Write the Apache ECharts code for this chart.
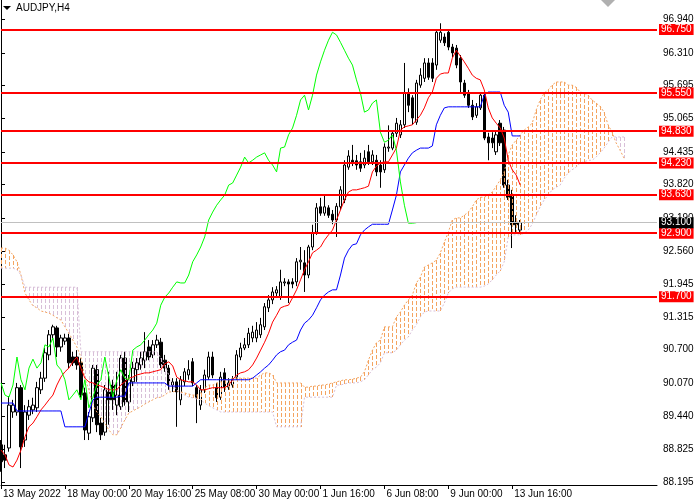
<!DOCTYPE html>
<html>
<head>
<meta charset="utf-8">
<title>AUDJPY,H4</title>
<script src="https://cdn.jsdelivr.net/npm/echarts@6.0.0/dist/echarts.min.js"></script>
<style>
  html, body { margin: 0; padding: 0; background: #fff; }
  #chart { width: 700px; height: 500px; }
</style>
</head>
<body>
<div id="chart"></div>
<script>
// AUDJPY H4 - candles with Ichimoku and price levels

// x axis: bar number, one label every 16 bars
var labelBars = [0, 16, 32, 48, 64, 80, 96, 112, 128];
var timeLabels = ['13 May 2022', '18 May 00:00', '20 May 16:00', '25 May 08:00', '30 May 00:00',
                  '1 Jun 16:00', '6 Jun 08:00', '9 Jun 00:00', '13 Jun 16:00'];

// price scale labels
var priceTicks = [88.195, 88.825, 89.440, 90.070, 90.700, 91.315, 91.945, 92.560,
                  93.190, 93.820, 94.435, 95.065, 95.695, 96.310, 96.940];

// horizontal levels and current bid
var levels = [96.750, 95.550, 94.830, 94.230, 93.630, 92.900, 91.700];
var bid = 93.101;

// candles
var opens = [
  88.90, 88.71, 88.84, 89.52, 89.52, 89.98, 88.99, 89.46, 89.56, 89.60,
  89.94, 90.16, 90.60, 90.98, 91.11, 90.75, 90.86, 90.92, 90.56, 90.56,
  90.45, 89.88, 89.12, 89.41, 90.32, 89.31, 89.14, 89.90, 90.03, 89.65,
  89.62, 90.54, 89.71, 90.09, 90.32, 90.41, 90.50, 90.75, 90.60, 90.79,
  90.84, 90.50, 90.35, 90.03, 90.09, 89.75, 90.09, 90.22, 90.47, 89.98,
  89.65, 89.94, 90.18, 90.56, 89.98, 89.80, 90.26, 89.99, 90.03, 90.18,
  90.56, 90.73, 90.79, 90.92, 90.92, 90.98, 91.13, 91.49, 91.64, 91.77,
  91.69, 91.96, 91.98, 91.98, 91.98, 92.36, 92.34, 92.11, 92.64, 92.92,
  93.40, 93.28, 93.38, 93.26, 93.15, 93.40, 93.53, 94.15, 94.28, 94.27,
  94.25, 94.19, 94.44, 94.25, 94.28, 94.19, 94.10, 94.51, 94.51, 94.79,
  94.76, 94.95, 95.55, 95.46, 95.00, 95.70, 95.83, 96.12, 96.12, 96.08,
  96.55, 96.61, 96.70, 96.42, 96.40, 96.21, 95.74, 95.55, 95.32, 95.13,
  95.27, 95.51, 94.72, 94.70, 94.44, 94.98, 94.85, 93.81, 93.62, 93.11,
  92.96
];
var closes = [
  88.58, 88.61, 89.65, 89.65, 89.98, 88.86, 89.52, 89.62, 89.65, 89.98,
  90.16, 90.64, 90.98, 91.13, 90.75, 90.92, 90.92, 90.45, 90.45, 90.41,
  89.84, 89.18, 89.43, 90.35, 89.28, 89.09, 89.94, 89.75, 89.75, 89.84,
  90.54, 89.71, 90.13, 90.35, 90.45, 90.54, 90.66, 90.56, 90.79, 90.88,
  90.41, 90.35, 90.03, 90.09, 89.90, 90.13, 90.28, 90.32, 90.07, 89.80,
  89.94, 90.22, 90.56, 90.22, 89.79, 90.18, 89.99, 90.07, 90.13, 90.60,
  90.73, 90.79, 91.01, 91.03, 91.07, 91.17, 91.51, 91.64, 91.79, 91.83,
  91.98, 91.98, 91.94, 91.94, 92.36, 92.39, 92.11, 92.64, 92.90, 93.38,
  93.28, 93.40, 93.24, 93.15, 93.41, 93.72, 94.19, 94.36, 94.23, 94.19,
  94.13, 94.32, 94.25, 94.38, 94.06, 94.06, 94.53, 94.53, 94.79, 94.98,
  94.95, 95.55, 95.32, 95.08, 95.74, 95.89, 96.12, 95.85, 95.83, 96.70,
  96.70, 96.50, 96.42, 96.31, 96.08, 95.76, 95.51, 95.32, 95.10, 95.29,
  95.51, 94.70, 94.61, 94.61, 94.76, 94.61, 93.81, 93.58, 93.06, 93.06,
  93.101
];
var lows = [
  88.39, 88.46, 88.77, 89.41, 89.45, 88.46, 88.86, 89.37, 89.48, 89.52,
  89.86, 90.09, 90.50, 90.88, 90.56, 90.66, 90.79, 90.35, 90.39, 90.32,
  89.79, 88.99, 88.99, 89.33, 89.14, 88.99, 89.07, 89.28, 89.56, 89.46,
  89.56, 89.64, 89.52, 90.01, 90.09, 90.32, 90.35, 90.50, 90.54, 90.73,
  90.35, 90.28, 89.94, 89.90, 89.24, 89.65, 90.01, 90.13, 90.01, 89.31,
  89.56, 89.88, 90.13, 90.16, 89.71, 89.75, 89.90, 89.94, 89.98, 90.13,
  90.50, 90.69, 90.73, 90.84, 90.84, 90.92, 91.07, 91.41, 91.56, 91.71,
  91.64, 91.90, 91.58, 91.86, 91.90, 92.21, 91.79, 92.05, 92.58, 92.87,
  93.23, 93.23, 93.19, 93.07, 92.83, 93.34, 93.47, 94.10, 94.17, 94.10,
  94.06, 94.13, 94.19, 94.19, 93.98, 93.76, 94.04, 94.44, 94.47, 94.72,
  94.70, 94.89, 95.19, 94.95, 94.95, 95.65, 95.76, 95.80, 95.76, 95.99,
  96.50, 96.44, 96.36, 96.23, 96.02, 95.57, 95.46, 95.27, 95.04, 95.08,
  95.23, 94.66, 94.28, 94.51, 94.38, 94.55, 93.76, 93.53, 92.62, 92.92,
  92.89
];
var highs = [
  88.99, 88.90, 89.82, 89.75, 90.07, 90.03, 89.65, 89.75, 89.79, 90.09,
  90.28, 90.73, 91.07, 91.17, 91.15, 90.98, 91.00, 91.00, 90.66, 90.69,
  90.54, 89.98, 89.52, 90.41, 90.41, 89.41, 90.03, 90.28, 90.13, 90.28,
  90.60, 90.66, 90.22, 90.47, 90.54, 90.66, 91.03, 90.88, 90.88, 90.98,
  90.92, 90.60, 90.41, 90.16, 90.16, 90.20, 90.35, 90.50, 90.54, 90.03,
  90.03, 90.32, 90.66, 90.66, 90.07, 90.28, 90.35, 90.16, 90.20, 90.69,
  90.83, 90.92, 91.11, 91.15, 91.22, 91.30, 91.58, 91.73, 91.88, 91.90,
  92.21, 92.05, 92.03, 92.05, 92.43, 92.64, 92.58, 92.68, 93.06, 93.47,
  93.57, 93.62, 93.43, 93.34, 93.47, 93.79, 94.28, 94.47, 94.57, 94.38,
  94.42, 94.47, 94.57, 94.47, 94.38, 94.28, 94.60, 94.94, 94.85, 95.08,
  95.04, 96.12, 95.64, 95.51, 95.80, 96.02, 96.21, 96.21, 96.21, 96.74,
  96.87, 96.68, 96.76, 96.48, 96.46, 96.27, 95.80, 95.61, 95.42, 95.36,
  95.57, 95.57, 94.80, 94.81, 94.85, 95.04, 94.91, 93.91, 93.72, 93.24,
  93.15
];

// Ichimoku lines
var tenkan = [
  88.80, 88.71, 88.52, 88.48, 88.61, 88.80, 89.05, 89.24, 89.31, 89.43,
  89.56, 89.65, 89.75, 89.84, 90.03, 90.18, 90.28, 90.35, 90.47, 90.56,
  90.35, 90.16, 90.09, 90.07, 90.03, 90.01, 89.98, 89.94, 89.94, 89.94,
  90.03, 90.09, 90.16, 90.18, 90.22, 90.24, 90.26, 90.26, 90.28, 90.30,
  90.32, 90.43, 90.47, 90.39, 90.18, 90.13, 90.11, 90.09, 90.09, 90.03,
  89.94, 89.94, 89.96, 89.98, 89.98, 89.98, 89.98, 90.03, 90.13, 90.22,
  90.26, 90.28, 90.32, 90.41, 90.54, 90.69, 90.84, 91.01, 91.22, 91.35,
  91.49, 91.52, 91.54, 91.68, 91.83, 92.02, 92.21, 92.36, 92.53, 92.58,
  92.64, 92.77, 92.87, 92.96, 93.15, 93.34, 93.53, 93.68, 93.72, 93.72,
  93.74, 93.76, 93.79, 94.06, 94.17, 94.23, 94.25, 94.25, 94.38, 94.51,
  94.85, 94.91, 94.93, 94.95, 95.04, 95.13, 95.27, 95.46, 95.57, 95.83,
  95.91, 95.93, 95.93, 96.21, 96.36, 96.25, 96.14, 96.02, 95.89, 95.83,
  95.80, 95.61, 95.27, 95.08, 94.98, 94.89, 94.70, 94.28, 94.10, 94.00,
  93.81
];
var kijun = [
  89.69, 89.69, 89.69, 89.69, 89.54, 89.54, 89.54, 89.54, 89.54, 89.54,
  89.54, 89.54, 89.54, 89.54, 89.54, 89.54, 89.24, 89.24, 89.24, 89.24,
  89.24, 89.24, 89.50, 89.75, 89.80, 89.80, 89.80, 89.80, 89.80, 89.80,
  89.82, 89.82, 90.07, 90.07, 90.07, 90.07, 90.07, 90.07, 90.07, 90.07,
  90.07, 90.07, 90.01, 90.01, 90.01, 90.01, 90.01, 90.01, 90.01, 90.07,
  90.13, 90.13, 90.13, 90.13, 90.13, 90.13, 90.13, 90.13, 90.13, 90.13,
  90.13, 90.13, 90.13, 90.16, 90.22, 90.28, 90.35, 90.41, 90.50, 90.60,
  90.66, 90.69, 90.79, 90.84, 90.88, 91.07, 91.20, 91.26, 91.35, 91.49,
  91.64, 91.73, 91.79, 91.83, 91.83, 92.11, 92.43, 92.58, 92.68, 92.70,
  92.87, 92.96, 93.02, 93.07, 93.07, 93.07, 93.07, 93.07, 93.34, 93.62,
  94.06, 94.19, 94.32, 94.42, 94.47, 94.51, 94.51, 94.51, 94.55, 94.95,
  95.13, 95.27, 95.29, 95.29, 95.29, 95.29, 95.29, 95.29, 95.29, 95.29,
  95.29, 95.51, 95.57, 95.57, 95.57, 95.57, 95.32, 95.19, 94.74, 94.74,
  94.74
];
var chikou = [
  90.07, 89.84, 89.80, 90.03, 90.56, 90.13, 89.94, 90.35, 90.52, 90.35,
  90.45, 90.79, 90.75, 90.92, 90.41, 90.32, 90.13, 89.75, 89.84, 89.94,
  89.75, 90.13, 89.60, 89.80, 90.03, 90.13, 90.56, 90.18, 89.80, 90.13,
  90.32, 90.16, 90.13, 90.69, 90.75, 90.79, 90.88, 90.98, 91.07, 91.20,
  91.54, 91.69, 91.77, 91.88, 91.98, 91.96, 91.96, 92.11, 92.36, 92.49,
  92.64, 92.83, 93.15, 93.30, 93.43, 93.53, 93.62, 93.81, 93.85, 94.00,
  94.15, 94.34, 94.23, 94.28, 94.34, 94.38, 94.42, 94.28, 94.19, 94.06,
  94.51, 94.53, 94.76, 94.89, 95.13, 95.42, 95.51, 95.23, 95.51, 95.89,
  96.14, 96.36, 96.55, 96.70, 96.65, 96.51, 96.36, 96.21, 96.08, 95.80,
  95.55, 95.19, 95.23, 95.36, 95.42, 94.81, 94.62, 94.66, 94.76, 94.47,
  93.87, 93.43, 93.09, 93.09, 93.10
];
var spanA = [
  92.62, 92.62, 92.58, 92.49, 92.36, 92.11, 91.77, 91.64, 91.53, 91.49,
  91.43, 91.41, 91.39, 91.35, 91.30, 91.26, 91.13, 91.01, 90.88, 90.75,
  90.56, 90.16, 89.94, 89.65, 89.52, 89.43, 89.31, 89.18, 89.09, 89.09,
  89.22, 89.37, 89.50, 89.54, 89.58, 89.62, 89.67, 89.71, 89.75, 89.79,
  89.80, 89.84, 89.90, 89.90, 89.92, 89.90, 89.88, 89.86, 89.84, 89.84,
  89.88, 89.98, 90.03, 90.03, 90.07, 90.09, 90.13, 90.13, 90.16, 90.16,
  90.16, 90.16, 90.16, 90.16, 90.16, 90.22, 90.26, 90.26, 90.22, 90.07,
  90.07, 90.07, 90.07, 90.07, 90.07, 90.07, 89.99, 89.99, 90.01, 90.01,
  90.03, 90.03, 90.05, 90.07, 90.09, 90.11, 90.13, 90.13, 90.14, 90.16,
  90.18, 90.28, 90.50, 90.69, 90.83, 90.88, 91.13, 91.13, 91.13, 91.32,
  91.41, 91.54, 91.64, 91.73, 91.96, 92.07, 92.26, 92.30, 92.34, 92.39,
  92.53, 92.73, 92.92, 93.15, 93.19, 93.19, 93.24, 93.30, 93.40, 93.53,
  93.58, 93.58, 93.62, 93.68, 93.79, 93.91, 94.06, 94.38, 94.57, 94.66,
  94.76, 94.85, 94.91, 94.98, 95.23, 95.42, 95.55, 95.61, 95.70, 95.76,
  95.76, 95.76, 95.70, 95.70, 95.66, 95.57, 95.55, 95.51, 95.42, 95.36,
  95.30, 95.19, 94.95, 94.81, 94.61, 94.47, 94.32
];
var spanB = [
  92.24, 92.24, 92.24, 92.24, 92.21, 92.11, 91.88, 91.88, 91.88, 91.88,
  91.88, 91.88, 91.88, 91.88, 91.88, 91.88, 91.88, 91.88, 91.88, 91.88,
  90.66, 90.66, 90.66, 90.66, 90.66, 90.66, 90.66, 90.66, 90.66, 90.66,
  90.66, 90.66, 90.66, 90.66, 90.66, 90.66, 90.66, 90.66, 90.66, 90.66,
  90.54, 90.41, 90.22, 90.03, 89.94, 89.88, 89.84, 89.80, 89.79, 89.77,
  89.75, 89.69, 89.64, 89.60, 89.56, 89.52, 89.52, 89.52, 89.52, 89.52,
  89.52, 89.52, 89.52, 89.52, 89.52, 89.52, 89.52, 89.52, 89.52, 89.24,
  89.24, 89.24, 89.24, 89.24, 89.24, 89.24, 89.80, 89.80, 89.80, 89.80,
  89.80, 89.80, 89.80, 89.80, 90.03, 90.03, 90.05, 90.07, 90.07, 90.07,
  90.09, 90.13, 90.22, 90.32, 90.37, 90.45, 90.64, 90.64, 90.64, 90.69,
  90.79, 90.88, 90.94, 91.07, 91.17, 91.32, 91.41, 91.43, 91.43, 91.43,
  91.43, 91.58, 91.77, 91.85, 91.88, 91.88, 91.88, 91.88, 91.88, 91.88,
  91.88, 91.90, 91.94, 92.02, 92.11, 92.19, 92.36, 92.83, 92.87, 92.87,
  92.87, 92.90, 92.96, 93.07, 93.24, 93.40, 93.53, 93.62, 93.72, 93.77,
  93.81, 93.94, 94.04, 94.10, 94.15, 94.23, 94.25, 94.28, 94.28, 94.34,
  94.42, 94.51, 94.62, 94.72, 94.72, 94.72, 94.72
];

var orange = '#F4A460';
var thistle = '#D8BFD8';
var axisFont = 'Liberation Sans';

function withIndex(arr) {
  var out = [];
  for (var i = 0; i < arr.length; i++) out.push([i, arr[i]]);
  return out;
}

var candleData = [];
for (var i = 0; i < opens.length; i++) {
  candleData.push([i, opens[i], closes[i], lows[i], highs[i]]);
}
var cloudData = [];
for (var i = 0; i < spanA.length; i++) {
  cloudData.push([i, spanA[i], spanB[i]]);
}

var lineData = [];
for (var i = 0; i < levels.length; i++) {
  lineData.push({ yAxis: levels[i] });
}
lineData.push({
  yAxis: bid,
  lineStyle: { color: '#c0c0c0', width: 1 },
  label: { backgroundColor: '#000' }
});

// one dotted vertical stroke per bar between span A and span B
function renderCloud(params, api) {
  var a = api.value(1);
  var b = api.value(2);
  var p1 = api.coord([api.value(0), a]);
  var p2 = api.coord([api.value(0), b]);
  var x = Math.round(p1[0]);
  var top = Math.round(Math.min(p1[1], p2[1]));
  var bottom = Math.round(Math.max(p1[1], p2[1]));
  var color = a >= b ? orange : thistle;
  var dashes = [];
  for (var y = top; y < bottom; y += 6) {
    dashes.push({
      type: 'rect',
      shape: { x: x, y: y, width: 1, height: Math.min(4, bottom - y) },
      style: { fill: color }
    });
  }
  return { type: 'group', children: dashes };
}

var myChart = echarts.init(document.getElementById('chart'));

var option = {
  animation: false,
  backgroundColor: '#fff',
  textStyle: { fontFamily: axisFont },
  grid: { left: 0, right: 43, top: 0, bottom: 15 },
  xAxis: {
    type: 'value',
    min: 0,
    max: 164.25,
    axisLine: { lineStyle: { color: '#000', width: 1 } },
    axisTick: { customValues: labelBars, length: 4, lineStyle: { color: '#000' } },
    axisLabel: {
      customValues: labelBars,
      formatter: function (v) { return timeLabels[labelBars.indexOf(v)] || ''; },
      showMinLabel: true,
      hideOverlap: false,
      align: 'left',
      margin: 4,
      padding: [0, 0, 0, 2],
      color: '#000',
      fontFamily: axisFont,
      fontSize: 10
    },
    splitLine: { show: false }
  },
  yAxis: {
    type: 'value',
    position: 'right',
    min: 88.14,
    max: 97.31,
    axisLine: { show: true, lineStyle: { color: '#000', width: 1 } },
    axisTick: { show: true, customValues: priceTicks, length: 4, lineStyle: { color: '#000' } },
    axisLabel: {
      customValues: priceTicks,
      formatter: function (v) { return v.toFixed(3); },
      showMinLabel: true,
      showMaxLabel: true,
      color: '#000',
      fontFamily: axisFont,
      fontSize: 10,
      margin: 6
    },
    splitLine: { show: false }
  },
  graphic: [
    { type: 'polygon', shape: { points: [[3, 6], [11, 6], [7, 10]] }, style: { fill: '#000' } },
    { type: 'text', left: 16, top: 3, style: { text: 'AUDJPY,H4', fill: '#000', font: '10px "Liberation Sans"' } },
    { type: 'polygon', shape: { points: [[601, 0], [615, 0], [608, 7]] }, style: { fill: '#b0b0b0' } }
  ],
  series: [
    {
      name: 'AUDJPY',
      type: 'candlestick',
      data: candleData,
      encode: { x: 0, y: [1, 2, 3, 4] },
      barWidth: 3,
      z: 2,
      itemStyle: {
        color: '#ffffff',
        color0: '#000000',
        borderColor: '#000000',
        borderColor0: '#000000',
        borderWidth: 1
      }
    },
    {
      name: 'Kumo',
      type: 'custom',
      data: cloudData,
      encode: { x: 0, y: [1, 2] },
      z: 3,
      silent: true,
      renderItem: renderCloud
    },
    {
      name: 'Senkou Span A',
      type: 'line',
      data: withIndex(spanA),
      symbol: 'none',
      z: 3,
      lineStyle: { color: orange, width: 1, type: [2, 2] }
    },
    {
      name: 'Senkou Span B',
      type: 'line',
      data: withIndex(spanB),
      symbol: 'none',
      z: 3,
      lineStyle: { color: thistle, width: 1, type: [2, 2] }
    },
    {
      name: 'Tenkan-sen',
      type: 'line',
      data: withIndex(tenkan),
      symbol: 'none',
      z: 4,
      lineStyle: { color: '#ff0000', width: 1 }
    },
    {
      name: 'Kijun-sen',
      type: 'line',
      data: withIndex(kijun),
      symbol: 'none',
      z: 4,
      lineStyle: { color: '#0000ff', width: 1 }
    },
    {
      name: 'Chikou Span',
      type: 'line',
      data: withIndex(chikou),
      symbol: 'none',
      z: 4,
      lineStyle: { color: '#00ff00', width: 1 }
    },
    {
      name: 'Levels',
      type: 'line',
      data: [],
      clip: false,
      z: 5,
      markLine: {
        silent: true,
        symbol: ['none', 'none'],
        animation: false,
        lineStyle: { color: '#ff0000', width: 2, type: 'solid' },
        label: {
          show: true,
          position: 'end',
          distance: 2,
          formatter: function (p) { return p.value.toFixed(3); },
          color: '#fff',
          backgroundColor: '#ff0000',
          fontFamily: axisFont,
          fontSize: 10,
          lineHeight: 11,
          padding: [0, 2, 0, 2]
        },
        data: lineData
      }
    }
  ]
};

myChart.setOption(option);
</script>
</body>
</html>
